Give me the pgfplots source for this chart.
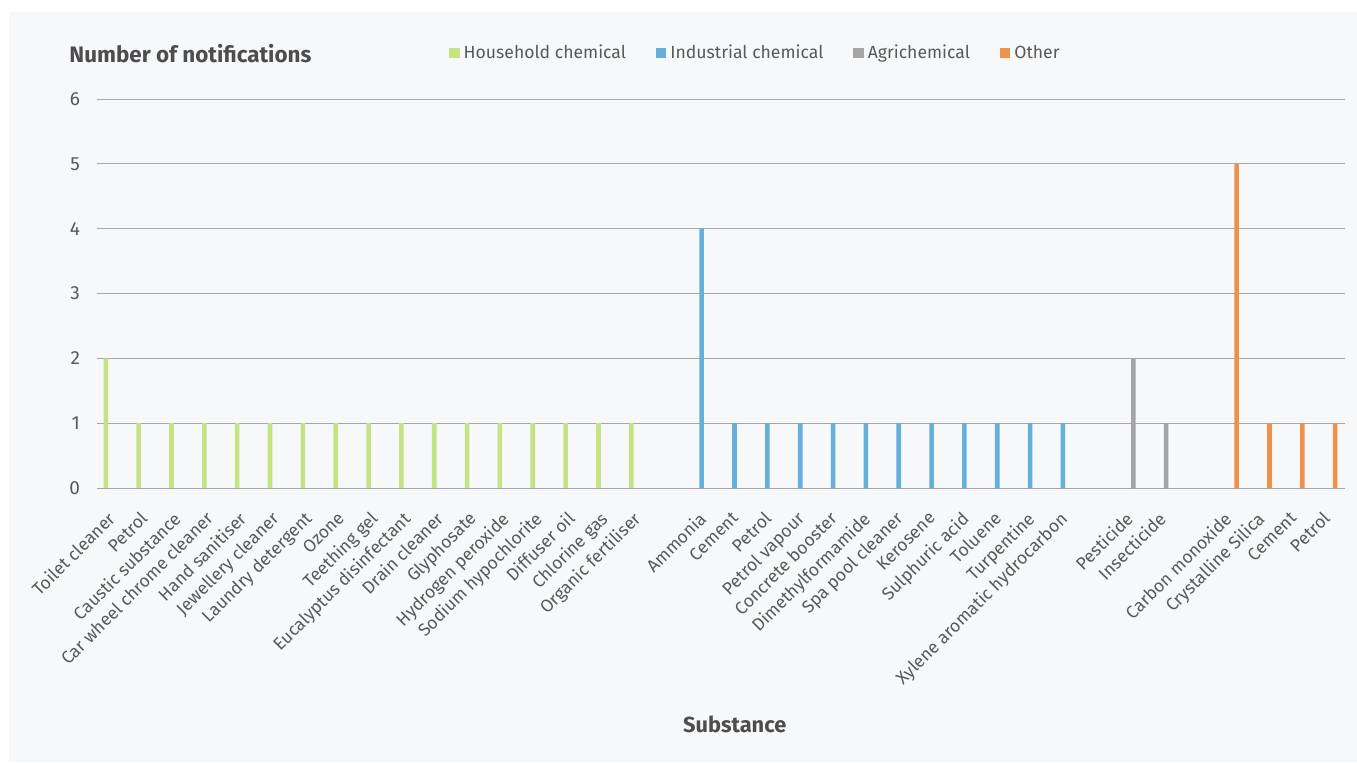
\documentclass[border=0pt]{standalone}
\usepackage{fontspec}
\setmainfont{Fira Sans}
\usepackage{pgfplots}
\pgfplotsset{compat=1.18}

\definecolor{panel}{HTML}{F7F8FA}
\definecolor{household}{HTML}{C5E384}
\definecolor{industrial}{HTML}{65B0DA}
\definecolor{agri}{HTML}{A5A5A5}
\definecolor{other}{HTML}{F0914B}
\definecolor{txt}{HTML}{595959}
\definecolor{heading}{HTML}{4D4D4D}
\definecolor{gridc}{HTML}{A6A6A6}

\begin{document}
\begin{tikzpicture}
\useasboundingbox (0,0) rectangle (678.5pt,381pt);
\fill[white] (0,0) rectangle (678.5pt,381pt);
\fill[panel] (4.5pt,0) rectangle (678.5pt,375pt);
\begin{axis}[
  at={(48.5pt,137pt)}, anchor=south west,
  scale only axis, width=624pt, height=194.5pt,
  xmin=-0.5, xmax=37.5, ymin=0, ymax=6,
  axis line style={draw=none},
  major tick length=0pt,
  ytick={0,1,2,3,4,5,6},
  ymajorgrids, major grid style={color=gridc, line width=0.5pt},
  /pgf/number format/assume math mode=true,
  yticklabel style={font=\fontsize{9.5}{11}\selectfont, text=txt, xshift=-5pt},
  xtick={0,1,2,3,4,5,6,7,8,9,10,11,12,13,14,15,16,
         18,19,20,21,22,23,24,25,26,27,28,29,
         31,32,34,35,36,37},
  xticklabels={Toilet cleaner,Petrol,Caustic substance,Car wheel chrome cleaner,
    Hand sanitiser,Jewellery cleaner,Laundry detergent,Ozone,Teething gel,
    Eucalyptus disinfectant,Drain cleaner,Glyphosate,Hydrogen peroxide,
    Sodium hypochlorite,Diffuser oil,Chlorine gas,Organic fertiliser,
    Ammonia,Cement,Petrol,Petrol vapour,Concrete booster,Dimethylformamide,
    Spa pool cleaner,Kerosene,Sulphuric acid,Toluene,Turpentine,
    Xylene aromatic hydrocarbon,
    Pesticide,Insecticide,
    Carbon monoxide,Crystalline Silica,Cement,Petrol},
  xticklabel style={xshift=-3.5pt, yshift=-11pt, rotate=45, anchor=north east,
    inner sep=0pt, font=\fontsize{8.8}{10}\selectfont, text=txt},
  ylabel={Number of notifications},
  every axis y label/.style={at={(rel axis cs:-0.0224,1.118)}, anchor=west,
    inner sep=0pt, font=\bfseries\fontsize{11.2}{13}\selectfont, text=heading},
  xlabel={Substance},
  every axis x label/.style={at={(rel axis cs:0.511,-0.607)}, anchor=center,
    font=\bfseries\fontsize{10.9}{13}\selectfont, text=heading},
  legend columns=4,
  legend style={at={(rel axis cs:0.282,1.118)}, anchor=west, draw=none, fill=none,
    inner sep=0pt, font=\fontsize{8.8}{10}\selectfont, text=txt,
    /tikz/every even column/.append style={column sep=13pt}},
  legend image code/.code={\fill[#1] (0pt,-2.6pt) rectangle (5.2pt,2.6pt);},
]
% Household chemicals
\addplot[ybar, bar width=2.3pt, bar shift=-3.8pt, fill=household, draw=none]
  coordinates {(0,2) (1,1) (2,1) (3,1) (4,1) (5,1) (6,1) (7,1) (8,1) (9,1)
               (10,1) (11,1) (12,1) (13,1) (14,1) (15,1) (16,1)};
\addlegendentry{Household chemical}
% Industrial chemicals
\addplot[ybar, bar width=2.3pt, bar shift=-1.45pt, fill=industrial, draw=none]
  coordinates {(18,4) (19,1) (20,1) (21,1) (22,1) (23,1) (24,1) (25,1)
               (26,1) (27,1) (28,1) (29,1)};
\addlegendentry{Industrial chemical}
% Agrichemicals
\addplot[ybar, bar width=2.3pt, bar shift=0.9pt, fill=agri, draw=none]
  coordinates {(31,2) (32,1)};
\addlegendentry{Agrichemical}
% Other
\addplot[ybar, bar width=2.3pt, bar shift=3.3pt, fill=other, draw=none]
  coordinates {(34,5) (35,1) (36,1) (37,1)};
\addlegendentry{Other}
\end{axis}
\end{tikzpicture}
\end{document}
